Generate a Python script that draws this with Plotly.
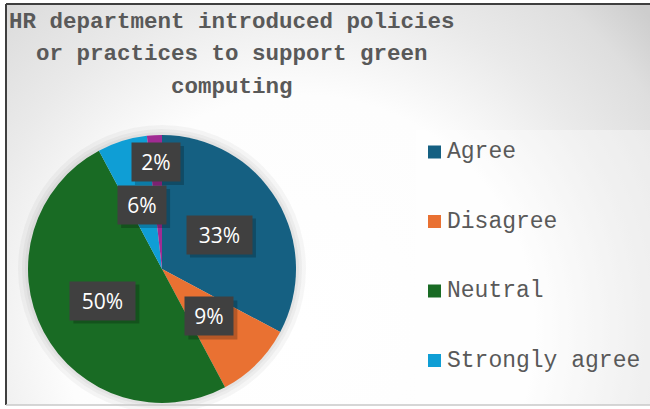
import math
import base64
import plotly.graph_objects as go

# ---- data ----
title_lines = ["HR department introduced policies", "or practices to support green", "computing"]
categories = ["Agree", "Disagree", "Neutral", "Strongly agree", "Strongly disagree"]
values = [32.8, 9.4, 50.0, 6.0, 1.8]
colors = ["#156082", "#E97132", "#196B24", "#0F9ED5", "#A02B93"]
label_radius = [0.5, 0.5, 0.5, 0.5, 0.8]   # style: label distance from centre (fraction of radius)

W, H = 650, 409
def px(x):
    return x / W
def py(y):
    return 1 - y / H

# pie geometry (pixels)
cx, cy, r = 162, 269, 134

fig = go.Figure()
fig.add_trace(go.Pie(
    labels=categories, values=values, sort=False, direction="clockwise", rotation=0,
    marker=dict(colors=colors, line=dict(width=0)), textinfo="none", showlegend=False,
    domain=dict(x=[px(cx - r), px(cx + r)], y=[py(cy + r), py(cy - r)]),
))

# background gradient (as an svg image)
svg = """<svg xmlns='http://www.w3.org/2000/svg' width='644' height='401' viewBox='0 0 644 401' preserveAspectRatio='none'>
<defs><radialGradient id='g' cx='294' cy='326' r='470' gradientUnits='userSpaceOnUse'>
<stop offset='0' stop-color='#ffffff'/><stop offset='0.5' stop-color='#fdfdfd'/><stop offset='0.72' stop-color='#eaeaea'/>
<stop offset='0.89' stop-color='#dedede'/><stop offset='1' stop-color='#cdcdcd'/></radialGradient></defs>
<rect width='644' height='401' fill='url(#g)'/></svg>"""
src = "data:image/svg+xml;base64," + base64.b64encode(svg.encode()).decode()

images = [dict(source=src, xref="paper", yref="paper", x=px(6), y=py(4), sizex=(W - 6) / W, sizey=(405 - 4) / H,
               sizing="stretch", layer="below", xanchor="left", yanchor="top")]

shapes = []
annotations = []

# soft halo around the pie
for extra in (10, 6, 3):
    shapes.append(dict(type="circle", xref="paper", yref="paper", x0=px(cx - r - extra), x1=px(cx + r + extra),
                       y0=py(cy + r + extra), y1=py(cy - r - extra), fillcolor="rgba(0,0,0,0.035)",
                       line=dict(width=0), layer="below"))

# legend panel
shapes.append(dict(type="rect", xref="paper", yref="paper", x0=px(416), x1=px(660), y0=py(412), y1=py(130),
                   fillcolor="rgba(255,255,255,0.35)", line=dict(width=0), layer="below"))
# frame
shapes.append(dict(type="line", xref="paper", yref="paper", x0=px(6), x1=px(660), y0=py(4), y1=py(4),
                   line=dict(color="#3f3f3f", width=2)))
shapes.append(dict(type="line", xref="paper", yref="paper", x0=px(6), x1=px(6), y0=py(4), y1=py(405),
                   line=dict(color="#3f3f3f", width=2)))
shapes.append(dict(type="line", xref="paper", yref="paper", x0=px(6), x1=px(660), y0=py(405), y1=py(405),
                   line=dict(color="#c8c8c8", width=1.5)))

# title
for i, line in enumerate(title_lines):
    annotations.append(dict(text=f"<b>{line}</b>", xref="paper", yref="paper", x=px(232), y=py(22 + 32.5 * i),
                            xanchor="center", yanchor="middle", showarrow=False,
                            font=dict(family="Courier New, Liberation Mono, monospace", size=22.5, color="#595959")))

# data labels
total = sum(values)
cum = 0.0
for cat, v, lr in zip(categories, values, label_radius):
    mid = (cum + v / 2) / total
    cum += v
    th = 2 * math.pi * mid
    lx = cx + r * lr * math.sin(th)
    ly = cy - r * lr * math.cos(th)
    txt = f"{round(100 * v / total)}%"
    bw = 48 if len(txt) == 2 else 65
    bh = 38
    # shadow
    shapes.append(dict(type="rect", xref="paper", yref="paper",
                       x0=px(lx - bw / 2 + 3), x1=px(lx + bw / 2 + 4), y0=py(ly + bh / 2 + 4), y1=py(ly - bh / 2 + 3),
                       fillcolor="rgba(0,0,0,0.22)", line=dict(width=0)))
    annotations.append(dict(text=txt, xref="paper", yref="paper", x=px(lx), y=py(ly), xanchor="center", yanchor="middle",
                            showarrow=False, borderpad=0, width=bw, height=bh, bgcolor="#404040",
                            font=dict(family="Open Sans", size=21, color="#ffffff")))

# legend
for i, (cat, col) in enumerate(zip(categories, colors)):
    yc = 152 + 69.5 * i
    if yc > H - 10:
        continue
    shapes.append(dict(type="rect", xref="paper", yref="paper", x0=px(428), x1=px(441), y0=py(yc + 6.5), y1=py(yc - 6.5),
                       fillcolor=col, line=dict(width=0)))
    annotations.append(dict(text=cat, xref="paper", yref="paper", x=px(445), y=py(yc), xanchor="left", yanchor="middle",
                            showarrow=False, font=dict(family="Courier New, Liberation Mono, monospace", size=23, color="#595959")))

fig.update_layout(width=W, height=H, margin=dict(l=0, r=0, t=0, b=0), paper_bgcolor="#ffffff",
                  images=images, shapes=shapes, annotations=annotations, showlegend=False)
fig.write_html("out.html", config=dict(displayModeBar=False),
               post_script="document.body.style.margin='0';document.body.style.overflow='hidden';")
